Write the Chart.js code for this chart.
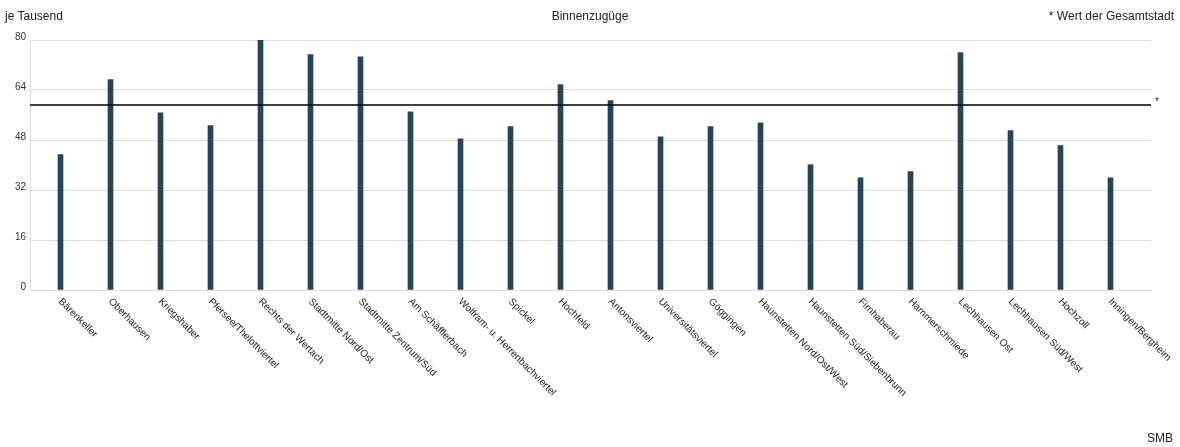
<!DOCTYPE html>
<html>
<head>
<meta charset="utf-8">
<script src="https://cdn.jsdelivr.net/npm/chart.js@4.4.0/dist/chart.umd.min.js"></script>
<style>
  body { margin: 0; background: #fff; }
  #wrap { position: relative; width: 1180px; height: 447px; font-family: "Liberation Sans", Arial, sans-serif; color: #222; }
  .txt { position: absolute; font-size: 12px; line-height: 14px; white-space: nowrap; }
  #unit { left: 5px; top: 9px; }
  #title { left: 0; width: 1180px; top: 9px; text-align: center; }
  #note { right: 6px; top: 9px; }
  #src { right: 7px; top: 431px; }
</style>
</head>
<body>
<div id="wrap">
  <canvas id="chart" width="1180" height="447"></canvas>
  <div class="txt" id="unit">je Tausend</div>
  <div class="txt" id="title">Binnenzugüge</div>
  <div class="txt" id="note">* Wert der Gesamtstadt</div>
  <div class="txt" id="src">SMB</div>
</div>
<script>
var districts = [
  'Bärenkeller', 'Oberhausen', 'Kriegshaber', 'Pfersee/Thelottviertel', 'Rechts der Wertach',
  'Stadtmitte Nord/Ost', 'Stadtmitte Zentrum/Süd', 'Am Schäfflerbach', 'Wolfram- u. Herrenbachviertel',
  'Spickel', 'Hochfeld', 'Antonsviertel', 'Universitätsviertel', 'Göggingen',
  'Haunstetten Nord/Ost/West', 'Haunstetten Süd/Siebenbrunn', 'Firnhaberau', 'Hammerschmiede',
  'Lechhausen Ost', 'Lechhausen Süd/West', 'Hochzoll', 'Inningen/Bergheim'
];
var values = [43.3, 67.3, 56.7, 52.6, 80.0, 75.3, 74.6, 57.0, 48.4, 52.3, 65.7, 60.6, 49.0, 52.3, 53.5, 40.1, 35.9, 37.9, 76.0, 51.0, 46.2, 35.9];
var gesamtstadt = 59.2;
var yTicks = [0, 16, 32, 48, 64, 80];

const xMin = -0.61;
const xMax = 21.81;
const font = '"Liberation Sans", Arial, sans-serif';

// rotated district names and the star next to the city line
const labelPlugin = {
  id: 'labels',
  afterDraw(chart) {
    const ctx = chart.ctx;
    const x = chart.scales.x;
    const y = chart.scales.y;
    ctx.save();
    ctx.fillStyle = '#222';
    ctx.font = '10px ' + font;
    ctx.textAlign = 'left';
    ctx.textBaseline = 'alphabetic';
    districts.forEach(function (name, i) {
      ctx.save();
      ctx.translate(x.getPixelForValue(i) - 2.5, y.bottom + 12);
      ctx.rotate(Math.PI / 4);
      ctx.fillText(name, 0, 0);
      ctx.restore();
    });
    ctx.fillText('*', x.right + 4, y.getPixelForValue(gesamtstadt));
    ctx.restore();
  }
};

new Chart(document.getElementById('chart'), {
  data: {
    datasets: [
      {
        type: 'bar',
        data: values.map(function (v, i) { return { x: i, y: v }; }),
        backgroundColor: '#26435c',
        barThickness: 5,
        order: 2
      },
      {
        type: 'line',
        data: [{ x: xMin, y: gesamtstadt }, { x: xMax, y: gesamtstadt }],
        borderColor: '#000',
        borderWidth: 1.5,
        pointRadius: 0,
        order: 1
      }
    ]
  },
  options: {
    responsive: false,
    animation: false,
    devicePixelRatio: 1,
    layout: { padding: { top: 40, right: 29, bottom: 157, left: 0 } },
    plugins: { legend: { display: false }, tooltip: { enabled: false } },
    scales: {
      x: {
        type: 'linear',
        offset: false,
        min: xMin,
        max: xMax,
        ticks: { display: false },
        grid: { display: false },
        border: { display: true, color: '#dddddd' },
        afterFit: function (scale) { scale.height = 0; }
      },
      y: {
        min: 0,
        max: 80,
        afterBuildTicks: function (scale) { scale.ticks = yTicks.map(function (v) { return { value: v }; }); },
        ticks: { color: '#333', font: { family: font, size: 10 }, padding: 4, labelOffset: -3 },
        grid: { color: '#dddddd', drawTicks: false },
        border: { display: true, color: '#dddddd' },
        afterFit: function (scale) { scale.width = 30; }
      }
    }
  },
  plugins: [labelPlugin]
});
</script>
</body>
</html>
